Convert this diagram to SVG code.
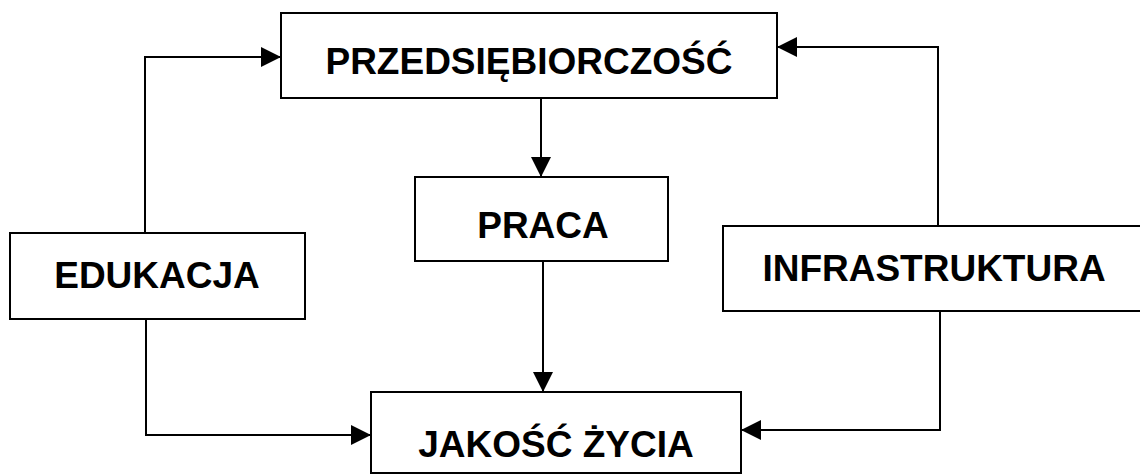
<svg xmlns="http://www.w3.org/2000/svg" width="1140" height="474" viewBox="0 0 1140 474">
  <defs>
    <marker id="arrow" viewBox="0 0 20 20" refX="20" refY="10" markerWidth="20" markerHeight="20" markerUnits="userSpaceOnUse" orient="auto">
      <path d="M0,0 L20,10 L0,20 z" fill="#000"/>
    </marker>
    <style>
      .box { fill: #fff; stroke: #000; stroke-width: 2; }
      .lbl { font-family: "Liberation Sans", Arial, sans-serif; font-weight: bold; font-size: 37px; fill: #000; text-anchor: middle; }
      .conn { fill: none; stroke: #000; stroke-width: 2; }
    </style>
  </defs>
  <rect width="1140" height="474" fill="#fff"/>
  <g id="connectors">
    <path class="conn" d="M145,233 L145,57 L281,57" marker-end="url(#arrow)"/>
    <path class="conn" d="M938,226 L938,47 L777,47" marker-end="url(#arrow)"/>
    <path class="conn" d="M541,98 L541,177" marker-end="url(#arrow)"/>
    <path class="conn" d="M543,261 L543,392" marker-end="url(#arrow)"/>
    <path class="conn" d="M146,319 L146,435 L371,435" marker-end="url(#arrow)"/>
    <path class="conn" d="M940,311 L940,430 L741,430" marker-end="url(#arrow)"/>
  </g>
  <g id="przedsiebiorczosc">
    <rect class="box" x="281" y="13" width="496" height="85"/>
    <text class="lbl" x="529" y="74">PRZEDSIĘBIORCZOŚĆ</text>
  </g>
  <g id="praca">
    <rect class="box" x="415" y="177" width="253" height="84"/>
    <text class="lbl" x="543" y="238">PRACA</text>
  </g>
  <g id="edukacja">
    <rect class="box" x="10" y="233" width="295" height="86"/>
    <text class="lbl" x="157" y="288">EDUKACJA</text>
  </g>
  <g id="infrastruktura">
    <rect class="box" x="723" y="226" width="422" height="85"/>
    <text class="lbl" x="934" y="281">INFRASTRUKTURA</text>
  </g>
  <g id="jakosc-zycia">
    <rect class="box" x="371" y="392" width="370" height="81"/>
    <text class="lbl" x="556" y="457">JAKOŚĆ ŻYCIA</text>
  </g>
</svg>
